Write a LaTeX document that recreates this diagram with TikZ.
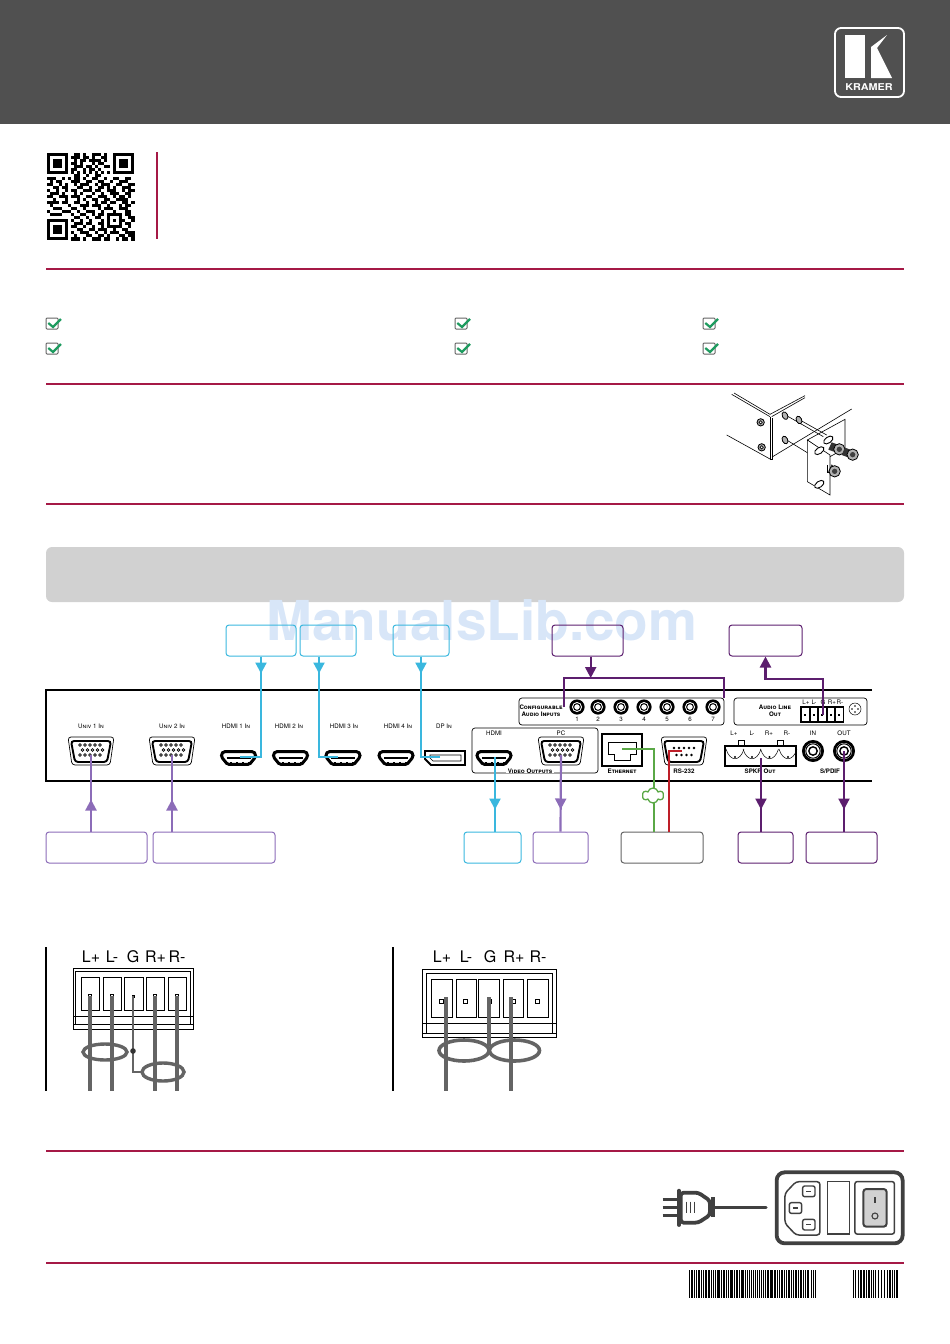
\documentclass[tikz,border=0pt]{standalone}
\usepackage{fontspec}
\setmainfont{TeX Gyre Heros}
\usetikzlibrary{arrows.meta,decorations.markings,shapes.symbols}
\definecolor{krhead}{RGB}{80,80,80}
\definecolor{krred}{RGB}{165,25,70}
\definecolor{krbar}{RGB}{209,209,209}
\definecolor{krcyan}{RGB}{58,183,222}
\definecolor{krlilac}{RGB}{140,108,184}
\definecolor{krplum}{RGB}{92,30,110}
\definecolor{krgreen}{RGB}{90,168,70}
\definecolor{krsignal}{RGB}{190,30,40}
\definecolor{krwire}{RGB}{100,100,100}
\definecolor{krcheck}{RGB}{30,155,95}
\definecolor{krwater}{RGB}{216,230,248}
\tikzset{
  rulered/.style={krred,line width=1.6pt},
  lblbox/.style={rounded corners=3pt,line width=1pt,minimum height=31pt,inner sep=0pt},
  tinylbl/.style={font=\fontsize{6.2}{7}\selectfont,inner sep=0pt},
  tinybold/.style={font=\fontsize{6.2}{6.4}\selectfont\bfseries,inner sep=0pt,align=center},
  pinlbl/.style={font=\fontsize{16}{17}\selectfont,inner sep=0pt},
  wirethick/.style={krwire,line width=3.4pt},
  midtip/.style={postaction={decorate,decoration={markings,mark=at position #1 with {\arrow{Triangle[width=11pt,length=11pt]}}}}},
  endtip/.style={-{Triangle[width=11pt,length=11pt]}},
  vgaport/.pic={
    \draw[line width=.7pt,fill=white,rounded corners=3pt] (-23,-14) -- (23,-14) -- (19,14) -- (-19,14) -- cycle;
    \draw[line width=1.9pt,rounded corners=3pt] (-20,-10) -- (20,-10) -- (16,11) -- (-16,11) -- cycle;
    \foreach \r/\o in {-6/0,-1/2.5,4/0}
      \foreach \c in {-10,-5,0,5,10}
        \draw[line width=.6pt] (\c+\o-1,\r) circle (1.4);
  },
  dbport/.pic={
    \draw[line width=.7pt,fill=white,rounded corners=3pt] (-23,-14) -- (23,-14) -- (19,14) -- (-19,14) -- cycle;
    \draw[line width=1.9pt,rounded corners=3pt] (-20,-10) -- (20,-10) -- (16,11) -- (-16,11) -- cycle;
    \foreach \c in {-10,-5,0,5,10} \fill (\c,-3) circle (1.3);
    \foreach \c in {-7.5,-2.5,2.5,7.5} \fill (\c,4) circle (1.3);
  },
  hdmiport/.pic={
    \draw[line width=3pt,fill=white,rounded corners=1.5pt] (-17,-4) -- (-15,-6.4) -- (15,-6.4) -- (17,-4) -- (17,-1) -- (11,6.4) -- (-11,6.4) -- (-17,-1) -- cycle;
    \draw[line width=1.2pt] (-12,0) -- (12,0);
    \foreach \c in {-9,-3,3,9} \fill (\c,3.6) rectangle +(2,1.4);
  },
  dpport/.pic={
    \draw[line width=1.8pt,fill=white] (-20,-7) -- (20,-7) -- (20,7) -- (-14,7) -- (-20,1) -- cycle;
    \draw[line width=.7pt] (-15,-3) -- (16,-3) -- (16,3) -- (-12,3) -- (-15,0) -- cycle;
  },
  rcajack/.pic={
    \fill circle (7.6);
    \fill[white] circle (5);
    \draw[line width=1pt] circle (3.4);
  },
  spdifjack/.pic={
    \draw[line width=2.8pt] circle (9.6);
    \draw[line width=1pt] circle (7.2);
    \draw[line width=1.4pt] circle (4.2);
  }
}
\begin{document}
\begin{tikzpicture}[x=1pt,y=-1pt]
  \useasboundingbox (0,0) rectangle (950,1344);
  % header and logo
  \fill[krhead] (0,0) rectangle (950,124);
  \draw[white,line width=1.8pt,rounded corners=6pt] (835,28) rectangle (904,97);
  \fill[white] (845,35) rectangle (865,78);
  \fill[white] (871,47) -- (887,35) -- (877,48) -- (892,78) -- (871,78) -- cycle;
  \node[white,inner sep=0pt,xscale=1.15,font=\fontsize{9.4}{10}\selectfont\bfseries] (kramerlogo) at (869,87) {KRAMER};

  % qr code
  \foreach \x/\y in {0/0,22/0,0/22}
  {
    \draw[line width=3pt] (46.5+\x*3.03+1.5,152.5+\y*3.03+1.5) rectangle +(18.2,18.2);
    \fill (46.5+\x*3.03+6.06,152.5+\y*3.03+6.06) rectangle +(9.1,9.1);
  }
  \foreach \y/\runs in {
    0/{9/2,12/1,15/3,19/1}, 1/{8/3,12/2,15/1,18/2}, 2/{9/1,11/2,14/4,19/1},
    3/{8/2,11/1,15/1,17/2}, 4/{9/3,13/2,16/1,19/2}, 5/{8/2,12/1,14/2,17/1},
    6/{8/1,10/1,12/1,14/1,16/1,18/1,20/1}, 7/{9/2,13/1,16/2},
    8/{0/3,5/1,7/1,9/2,12/1,15/2,19/1,22/2,26/2}, 9/{1/1,3/2,8/3,13/2,17/2,21/1,24/3},
    10/{0/2,4/1,6/1,9/1,11/3,16/1,18/3,23/2,27/2}, 11/{2/2,5/2,10/2,14/1,17/2,20/1,22/1,25/3},
    12/{0/1,3/1,6/1,8/2,12/3,16/2,20/3,25/1,27/2}, 13/{1/3,5/1,9/1,11/1,15/1,18/1,21/3,26/2},
    14/{0/2,4/3,8/3,13/2,17/3,22/1,24/2,27/1}, 15/{2/1,6/1,10/1,12/1,15/2,19/2,23/4},
    16/{0/4,5/2,9/2,13/1,16/1,18/2,21/2,25/2,28/1}, 17/{1/1,7/1,11/3,15/3,20/1,24/1,26/2},
    18/{2/2,4/1,8/2,12/1,17/1,19/3,24/3}, 19/{0/1,5/3,10/1,13/3,18/1,22/1,26/2},
    20/{1/4,8/1,11/2,15/1,17/2,20/5,26/2}, 21/{9/2,13/1,16/2,20/1,24/1,27/2},
    22/{8/1,11/1,14/1,18/1,20/1,22/1,24/2,28/1}, 23/{9/3,13/2,17/2,20/1,24/1,26/2},
    24/{8/2,12/1,15/1,18/1,20/5,27/1}, 25/{10/2,14/2,17/3,22/1,25/2},
    26/{8/1,11/3,16/1,19/1,21/3,26/3}, 27/{9/1,13/2,17/2,20/1,24/2,27/2},
    28/{8/3,12/1,15/3,19/2,23/1,25/2,28/1}}
  {
    \foreach \x/\w in \runs
      \fill (46.5+\x*3.03,152.5+\y*3.03) rectangle +(\w*3.03+.15,3.18);
  }

  % rules and check boxes
  \draw[krred,line width=1.6pt] (157,152) -- (157,239);
  \foreach \y in {269,384,504,1151,1263}
    \draw[rulered] (46,\y) -- (904,\y);
  \foreach \x in {46,455,703}
    \foreach \y in {318,343}
    {
      \draw[krwire,line width=1pt,rounded corners=1pt] (\x,\y) rectangle +(12,11);
      \draw[krcheck,line width=2.2pt] (\x+2.3,\y+5) -- (\x+7,\y+9) -- (\x+15,\y+1);
    }

  % rack ears
  \begin{scope}[shift={(720,385)},x=.3333pt,y=-.3333pt,line width=.6pt]
    \draw (35,28) -- (150,95) (42,24) -- (150,88);
    \draw (20,150) -- (150,222);
    \draw (150,88) -- (255,32) (155,95) -- (255,38);
    \draw (150,95) -- (150,222) -- (158,222) -- (158,98);
    \draw (158,215) -- (395,72);
    \draw[fill=white] (262,165) -- (375,103) -- (375,190) -- (330,215) -- cycle;
    \draw (200,92) -- (310,155) (240,105) -- (320,150) (200,165) -- (265,205);
    \draw[fill=white] (262,165) -- (330,210) -- (330,330) -- (262,290) -- cycle;
    \draw[line width=1.2pt] (322,240) -- (322,262) -- (330,262);
    \foreach \x/\y in {122/112,125/187}
    {
      \draw[line width=.8pt,fill=gray!70] (\x,\y) circle (11);
      \draw[fill=white] (\x,\y) circle (5);
    }
    \foreach \x/\y in {195/92,237/105,195/165}
      \draw[line width=.8pt,fill=gray!60,rotate around={25:(\x,\y)}] (\x,\y) ellipse (8 and 12);
    \foreach \x/\y in {298/197,298/298,325/165}
      \draw[line width=.9pt,fill=white,rotate around={35:(\x,\y)}] (\x,\y) ellipse (16 and 9);
    \foreach \x/\y/\l in {335/172/22,375/188/22,335/238/8}
    {
      \fill[black!80] (\x,\y) -- (\x+\l,\y+8) -- (\x+\l-10,\y+30) -- (\x-10,\y+22) -- cycle;
      \draw[line width=.8pt,fill=gray!60] (\x+\l+1,\y+21) circle (17);
      \fill[black!75] (\x+\l+1,\y+21) circle (8);
    }
  \end{scope}

  \fill[krbar,rounded corners=6pt] (46,547) rectangle (904,602);
  \node[krwater,inner sep=0pt,font=\fontsize{55}{56}\selectfont\bfseries] (watermark) at (482,620) {ManualsLib.com};

  % panel
  \draw[line width=2pt] (872,690) -- (46,690) -- (46,781) -- (872,781);
  \foreach \n/\x/\t in {ttua/91/Univ 1 In,ttub/172/Univ 2 In,tthda/236/HDMI 1 In,tthdb/289/HDMI 2 In,
    tthdc/344/HDMI 3 In,tthdd/398/HDMI 4 In,ttdp/444/DP In}
    \node[tinylbl] (\n) at (\x,726) {\textsc{\t}};
  \foreach \x in {91,172,561}
    \pic at (\x,751) {vgaport};
  \foreach \x in {238.5,290.5,343,396,494}
    \pic at (\x,758) {hdmiport};
  \pic at (445,758) {dpport};
  \pic at (684,751) {dbport};

  \draw[line width=.7pt,rounded corners=3pt] (519,698) rectangle (724,725);
  \node[tinybold] (ttconfig) at (541,710.5) {\textsc{Configurable}\\[.6pt]\textsc{Audio Inputs}};
  \foreach \x [count=\i] in {577,598,621,644,667,690,713}
  {
    \pic at (\x,707) {rcajack};
    \node[tinylbl] (ttin\i) at (\x,719.5) {\i};
  }

  \draw[line width=.7pt,rounded corners=3pt] (734,698) rectangle (867,725);
  \node[tinybold] (ttaudout) at (775,710.5) {\textsc{Audio Line}\\[.6pt]\textsc{Out}};
  \fill (800,706) rectangle (844,723);
  \foreach \x in {802,810.5,819,827.5,836}
  {
    \fill[white] (\x,708) rectangle +(6.6,13);
    \fill (\x+2.4,713.5) rectangle +(1.8,2);
  }
  \foreach \n/\x/\t in {lp/806/L+,lm/814/L-,gn/823/G,rp/832/R+,rm/840/R-}
    \node[tinylbl] (tta\n) at (\x,702) {\t};
  \draw[line width=.5pt] (855,709) circle (6);
  \foreach \a/\b in {-3/0,3/0,0/-3,0/3}
    \fill (855+\a,709+\b) circle (.8);

  \draw[line width=.7pt,rounded corners=3pt] (472,728) rectangle (598,773);
  \node[tinylbl] (tthdout) at (494,733) {HDMI};
  \node[tinylbl] (ttpc) at (561,733) {PC};
  \node[tinybold,fill=white,inner xsep=2pt] (ttvideo) at (530,771) {\textsc{Video Outputs}};

  \draw[line width=1.8pt] (602,734) rectangle (642,766);
  \draw[line width=.6pt] (608,742) -- (636,742) -- (636,754) -- (630,754) -- (630,760) -- (614,760) -- (614,754) -- (608,754) -- cycle;
  \node[tinybold] (ttether) at (622,771) {\textsc{Ethernet}};
  \node[tinybold] (ttrs) at (684,771) {\textsc{RS-232}};

  \draw[line width=1pt] (738,740) rectangle (744,746) (777,740) rectangle (783,746);
  \draw[line width=2.2pt] (725,746) rectangle (796,766);
  \foreach \x in {735,752,769.5,788}
  {
    \fill (\x,757) circle (1.1);
    \draw[line width=.5pt] (\x-9,749) .. controls (\x-5,762) and (\x+5,762) .. (\x+9,749);
  }
  \foreach \n/\x/\t in {lp/734/L+,lm/752/L-,rp/769/R+,rm/787/R-}
    \node[tinylbl] (tts\n) at (\x,733) {\t};
  \node[tinybold] (ttspkr) at (760,771) {\textsc{SPKR Out}};

  \pic at (813,751) {spdifjack};
  \pic at (844,751) {spdifjack};
  \node[tinylbl] (ttspin) at (813,733) {IN};
  \node[tinylbl] (ttspout) at (844,733) {OUT};
  \node[tinybold] (ttspdif) at (830,771) {S/PDIF};

  % label boxes
  \foreach \n/\x/\y/\w/\c in {
    boxhdmia/261/640.5/70/krcyan, boxhdmic/328/640.5/56/krcyan, boxdp/421/640.5/56/krcyan,
    boxcfg/587.5/640.5/71/krplum, boxline/765.5/640.5/73/krplum,
    boxunia/96.5/847.5/101/krlilac, boxunib/214/847.5/122/krlilac, boxhdout/492.5/847.5/57/krcyan,
    boxpc/560.5/847.5/55/krlilac, boxctrl/662/847.5/82/krwire, boxspkr/765.5/847.5/55/krplum,
    boxspdif/841.5/847.5/71/krplum}
    \node[lblbox,draw=\c,minimum width=\w pt] (\n) at (\x,\y) {};

  % connectors
  \foreach \n/\x/\y in {hdmia/240/757,hdmic/338/757,dpin/440/757,unia/91/755,unib/172/755,
    hdout/495/757,pcout/561/755,ethport/622/749,rsport/682/751,spkr/761/758,spdif/844/751,
    pinout/823/715,lineturn/765.5/679,brkl/564/707,brkr/724/698,brktl/564/678,brktr/724/678,brkm/590.7/678}
    \coordinate (\n) at (\x,\y);

  \draw[krcyan,line width=2.2pt,midtip=17pt] (boxhdmia.south) |- (hdmia);
  \draw[krcyan,line width=2.2pt,midtip=17pt] ([xshift=-9pt]boxhdmic.south) |- (hdmic);
  \draw[krcyan,line width=2.2pt,midtip=17pt] (boxdp.south) |- (dpin);
  \draw[krlilac,line width=2.2pt,midtip=32pt] ([xshift=-5.5pt]boxunia.north) -- (unia);
  \draw[krlilac,line width=2.2pt,midtip=32pt] ([xshift=-42pt]boxunib.north) -- (unib);
  \draw[krcyan,line width=2.2pt,midtip=-22pt] (hdout) -- ([xshift=2.5pt]boxhdout.north);
  \draw[krlilac,line width=2.2pt,midtip=-22pt] (pcout) -- (boxpc.north);
  \draw[krplum,line width=2.2pt,midtip=-22pt] (spkr) -- ([xshift=-4.5pt]boxspkr.north);
  \draw[krplum,line width=2.2pt,midtip=-22pt] (spdif) -- ([xshift=2.5pt]boxspdif.north);
  \draw[krgreen,line width=1.8pt] (ethport) -| ([xshift=-8pt]boxctrl.north);
  \draw[krsignal,line width=1.8pt] (rsport) -| ([xshift=7pt]boxctrl.north);
  \node[cloud,cloud puffs=6,aspect=1.4,draw=krgreen,fill=white,line width=1.3pt,minimum width=21pt,minimum height=15pt,inner sep=0pt] (netcloud) at (653,795.5) {};
  \draw[krplum,line width=1.5pt] (brkl) -- (brktl) -- (brktr) -- (brkr);
  \draw[krplum,line width=2.2pt,endtip] ([xshift=3.2pt]boxcfg.south) -- (brkm);
  \draw[krplum,line width=2.2pt,endtip] (pinout) |- (lineturn) -- (boxline.south);

  % balanced and unbalanced wiring
  \draw[line width=1.2pt] (46,947) -- (46,1091);
  \draw[line width=1.2pt] (393,947) -- (393,1091);

  \foreach \n/\x/\t in {lp/91/L+,lm/112/L-,gn/133/G,rp/155.5/R+,rm/177/R-}
    \node[pinlbl] (pa\n) at (\x,957) {\t};
  \draw[line width=.8pt] (73,968) rectangle (193,1029) (75.5,971) rectangle (190.5,1024) (73,1016) -- (193,1016) (73,1024) -- (193,1024);
  \foreach \x/\w in {81/18,103/18,124/19,146/18,168/18}
    \draw[line width=.7pt] (\x,977) rectangle +(\w,33);
  \foreach \x in {90,112,155,177}
    \draw[line width=.6pt] (\x-1.5,994.5) rectangle +(3,3);
  \fill (131.5,994.5) rectangle +(3,3);
  \foreach \x in {90,112,155,177}
    \draw[wirethick] (\x,996) -- (\x,1091);
  \draw[wirethick] (105,1052) ellipse (22 and 8);
  \draw[wirethick] (163,1072) ellipse (21 and 9);
  \draw[krwire,line width=2.4pt] (133,996) -- (133,1072) -- (143,1072);
  \fill[black!80] (133,1051) circle (2.8);

  \foreach \n/\x/\t in {lp/442/L+,lm/466/L-,gn/490/G,rp/514/R+,rm/538/R-}
    \node[pinlbl] (pb\n) at (\x,957) {\t};
  \draw[line width=.8pt] (422,969) rectangle (556,1037) (426,973) rectangle (552,1033) (422,1023) -- (556,1023) (422,1033) -- (556,1033);
  \foreach \x/\w in {431/21,456/20,478/21,503/20,527/21}
    \draw[line width=.7pt] (\x,979) rectangle +(\w,38);
  \foreach \x in {441,465,489,513,537}
    \draw[line width=.7pt] (\x-2,999) rectangle +(4,4);
  \draw[wirethick,line width=4.2pt] (446,997) -- (446,1091);
  \draw[wirethick,line width=4.2pt] (489,997) -- (489,1046);
  \draw[wirethick,line width=4.2pt] (511,997) -- (511,1091);
  \draw[wirethick,line width=3.6pt] (464,1050.5) ellipse (25 and 10.5);
  \draw[wirethick,line width=3.6pt] (514.5,1050.5) ellipse (25 and 10.5);

  % power inlet and plug
  \begin{scope}[shift={(650,1160)},x=.3333pt,y=-.3333pt,draw=black!75]
    \draw[line width=3.8pt,rounded corners=8pt] (380,37) rectangle (758,250);
    \draw[line width=1.5pt,rounded corners=3pt] (405,100) -- (438,65) -- (510,65) -- (510,225) -- (438,225) -- (405,190) -- cycle;
    \foreach \x/\y in {458/78,418/128,458/178}
    {
      \draw[line width=1.4pt,rounded corners=2pt] (\x,\y) rectangle +(37,32);
      \draw[line width=1.2pt] (\x+11,\y+16) -- (\x+26,\y+16);
    }
    \draw[line width=1.5pt] (533,65) rectangle (598,222);
    \draw[line width=1.5pt,rounded corners=2pt] (615,65) rectangle (733,222);
    \draw[line width=2pt,fill=krbar,rounded corners=3pt] (640,87) rectangle (710,200);
    \draw[line width=1.1pt] (675,112) -- (675,130);
    \draw[line width=1.1pt] (675,168) circle (9);
    \draw[line width=3.4pt,line cap=round] (195,143) -- (348,143);
    \foreach \y in {118,143,167}
      \draw[line width=2.6pt] (38,\y) -- (85,\y);
    \draw[line width=3.8pt,rounded corners=3pt,fill=white] (92,98) -- (145,98) -- (180,122) -- (180,165) -- (145,188) -- (92,188) -- cycle;
    \draw[line width=3.8pt,line cap=round] (87,92) -- (87,195);
    \draw[line width=3.8pt,rounded corners=2pt] (190,112) -- (190,172);
    \foreach \x in {108,120,132}
      \draw[line width=1pt] (\x,125) -- (\x,158);
  \end{scope}

  % barcodes
  \foreach \x/\w in {689/1,691/2,694/1,696/1,698/2,701/1,703/.7,705/2,708/2,711/1,713/.7,715/1,
    717/3,721/1,723/2,726/1,728/.7,730/3,734/1,736/2,739/1,741/3,745/1,747/.7,749/.7,751/1,
    753/.7,755/1,757/.7,759/.7,761/1,763/.7,765/1,767/2,770/3,774/2,777/1,779/.7,781/2,
    784/.7,786/1,788/2,791/1,793/.7,795/2,798/.7,800/2,803/1,805/.7,807/2,811/1,813/.7,815/1}
    \fill (\x,1270) rectangle +(\w,28);
  \foreach \x/\w in {853/.7,855/1,858/.7,860/2,863/2,866/1,868/2,871/1,873/.7,875/1,
    878/.7,881/1,884/.7,887/1,889/2,892/.7,894/1,896/2}
    \fill (\x,1270) rectangle +(\w,28);
\end{tikzpicture}
\end{document}
